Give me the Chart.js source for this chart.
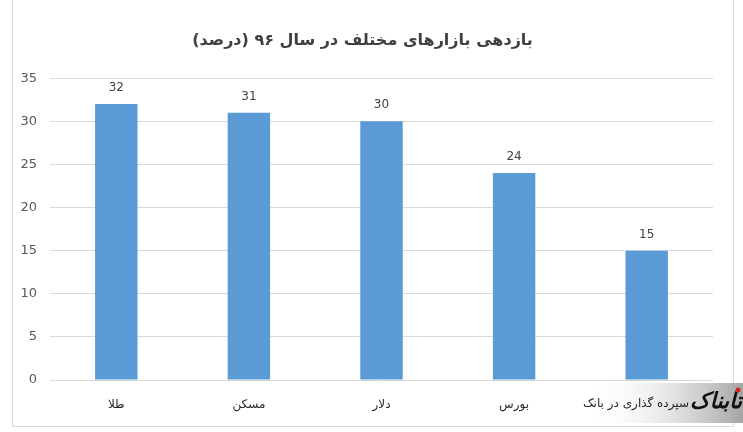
<!DOCTYPE html>
<html>
<head>
<meta charset="utf-8">
<script src="https://cdn.jsdelivr.net/npm/chart.js@4"></script>
<style>
html,body{margin:0;padding:0;background:#fff;}
#wrap{width:743px;height:432px;position:relative;}
</style>
</head>
<body>
<div id="wrap"><canvas id="c" dir="rtl" width="743" height="432"></canvas></div>
<script>
const categories = ['طلا', 'مسکن', 'دلار', 'بورس', 'سپرده گذاری در بانک'];
const values = [32, 31, 30, 24, 15];
const yTicks = [0, 5, 10, 15, 20, 25, 30, 35];
const titleText = 'بازدهی بازارهای مختلف در سال ۹۶ (درصد)';
const watermarkText = 'تابناک';

const frame = {
  id: 'frame',
  beforeDraw(chart) {
    const ctx = chart.ctx;
    ctx.save();
    ctx.fillStyle = '#fff';
    ctx.fillRect(0, 0, chart.width, chart.height);
    ctx.strokeStyle = '#d9d9d9';
    ctx.lineWidth = 1;
    ctx.beginPath();
    ctx.moveTo(12.5, 0);
    ctx.lineTo(12.5, 426.5);
    ctx.lineTo(733.5, 426.5);
    ctx.lineTo(733.5, 0);
    ctx.stroke();
    ctx.restore();
  },
  afterDatasetsDraw(chart) {
    const ctx = chart.ctx;
    const meta = chart.getDatasetMeta(0);
    ctx.save();
    ctx.font = '12px "DejaVu Sans", sans-serif';
    ctx.fillStyle = '#404040';
    ctx.textAlign = 'center';
    ctx.textBaseline = 'middle';
    meta.data.forEach((bar, i) => {
      ctx.fillText(String(values[i]), bar.x, bar.y - 16);
    });
    ctx.restore();
  },
  afterDraw(chart) {
    const ctx = chart.ctx;
    ctx.save();
    const g = ctx.createLinearGradient(585, 0, 743, 0);
    g.addColorStop(0, 'rgba(255,255,255,0)');
    g.addColorStop(0.55, 'rgba(215,215,215,0.7)');
    g.addColorStop(1, 'rgba(160,160,160,0.95)');
    ctx.fillStyle = g;
    ctx.fillRect(585, 383, 158, 40);
    ctx.font = '12px "DejaVu Sans", sans-serif';
    ctx.fillStyle = '#262626';
    ctx.textAlign = 'right';
    ctx.textBaseline = 'top';
    ctx.fillText(categories[4], 689, 398);
    ctx.font = 'italic bold 22px "DejaVu Sans", sans-serif';
    ctx.fillStyle = '#111';
    ctx.textAlign = 'right';
    ctx.textBaseline = 'middle';
    ctx.fillText(watermarkText, 742, 402);
    ctx.fillStyle = '#d22';
    ctx.beginPath();
    ctx.arc(738, 390, 2.5, 0, Math.PI * 2);
    ctx.fill();
    ctx.restore();
  }
};

new Chart(document.getElementById('c'), {
  type: 'bar',
  data: {
    labels: categories,
    datasets: [{
      data: values,
      backgroundColor: '#5b9bd5',
      borderWidth: 0,
      categoryPercentage: 1,
      barPercentage: 0.32
    }]
  },
  options: {
    responsive: false,
    animation: false,
    devicePixelRatio: 1,
    layout: { padding: { top: 0, left: 12, right: 30, bottom: 0 } },
    plugins: {
      legend: { display: false },
      tooltip: { enabled: false },
      title: {
        display: true,
        text: titleText,
        color: '#404040',
        font: { family: '"DejaVu Sans", sans-serif', size: 16, weight: 'bold', lineHeight: 1.2 },
        padding: { top: 31, bottom: 28 }
      }
    },
    scales: {
      x: {
        grid: { display: false, drawTicks: false },
        border: { display: false },
        ticks: {
          color: '#262626',
          font: { family: '"DejaVu Sans", sans-serif', size: 12 },
          padding: 18,
          maxRotation: 0,
          autoSkip: false,
          callback: (v, i) => i === 4 ? '' : categories[i]
        },
        afterFit: (s) => { s.height = 52; }
      },
      y: {
        min: 0,
        max: 35,
        afterBuildTicks: (s) => { s.ticks = yTicks.map(v => ({ value: v })); },
        grid: { color: '#d9d9d9', drawTicks: false },
        border: { display: false },
        ticks: {
          color: '#595959',
          font: { family: '"DejaVu Sans", sans-serif', size: 13 },
          padding: 13
        },
        afterFit: (s) => { s.width = 38; }
      }
    }
  },
  plugins: [frame]
});
</script>
</body>
</html>
